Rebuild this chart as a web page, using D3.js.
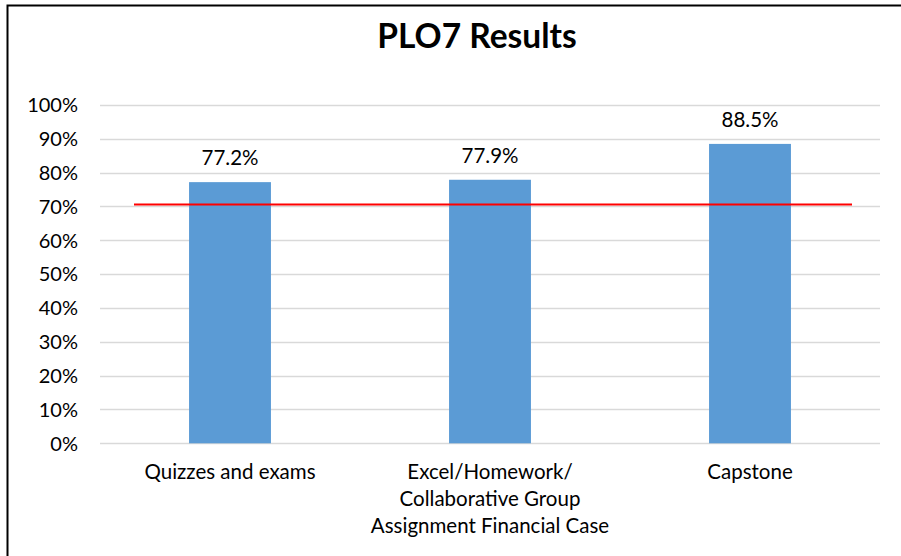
<!DOCTYPE html>
<html>
<head>
<meta charset="utf-8">
<script src="https://cdn.jsdelivr.net/npm/d3@7"></script>
<style>
  body { margin: 0; background: #fff; }
  svg { display: block; font-family: Lato, "Open Sans", sans-serif; }
  .tick-label { font-size: 20px; fill: #000; }
  .cat-label { font-size: 20.5px; fill: #000; }
  .value-label { font-size: 20.5px; fill: #000; }
  .title { font-size: 33.5px; font-weight: bold; fill: #000; }
</style>
</head>
<body>
<div id="chart"></div>
<script>
// chart data
const categories = [
    ["Quizzes and exams"],
    ["Excel/Homework/", "Collaborative Group", "Assignment Financial Case"],
    ["Capstone"]
];
const results = [0.772, 0.779, 0.885];
const valueLabels = ["77.2%", "77.9%", "88.5%"];
const yTicks = [0, 0.1, 0.2, 0.3, 0.4, 0.5, 0.6, 0.7, 0.8, 0.9, 1.0];
const target = [0.706];

const W = 901, H = 556;
const margin = {left: 100, right: 21, top: 105, bottom: 112.7};
const width = W - margin.left - margin.right;
const height = H - margin.top - margin.bottom;

// colours
const BAR_COLOR = "#5B9BD5";
const GRID_COLOR = "#D9D9D9";
const TARGET_COLOR = "#FF0000";

let svg = d3.select("#chart")
    .append("svg")
    .attr("width", W)
    .attr("height", H);

// outer frame (only top and left visible in the crop)
svg.append("path")
    .attr("d", "M7.5," + H + " L7.5,5.5 L" + W + ",5.5")
    .attr("fill", "none")
    .attr("stroke", "#000")
    .attr("stroke-width", 2);

svg.append("text")
    .attr("class", "title")
    .attr("x", 477)
    .attr("y", 48)
    .attr("text-anchor", "middle")
    .text("PLO7 Results");

let chart = svg.append("g")
    .attr("transform", "translate(" + margin.left + ", " + margin.top + ")");

let x = d3.scaleBand()
    .domain(d3.range(categories.length))
    .range([0, width])
    .padding(0);

let y = d3.scaleLinear()
    .domain([0, 1])
    .range([height, 0]);

// gridlines
chart.append("g")
    .selectAll("line")
    .data(yTicks)
    .enter()
    .append("line")
    .attr("x1", 0)
    .attr("x2", width)
    .attr("y1", function(d) { return Math.round(y(d)) + 0.5; })
    .attr("y2", function(d) { return Math.round(y(d)) + 0.5; })
    .attr("stroke", GRID_COLOR)
    .attr("stroke-width", 1.5);

// y tick labels
chart.append("g")
    .selectAll("text")
    .data(yTicks)
    .enter()
    .append("text")
    .attr("class", "tick-label")
    .attr("x", -22)
    .attr("y", function(d) { return y(d); })
    .attr("dy", "0.36em")
    .attr("text-anchor", "end")
    .text(d3.format(".0%"));

const barWidth = x.bandwidth() * 0.315;

chart.append("g")
    .selectAll("rect")
    .data(results)
    .enter()
    .append("rect")
    .attr("x", function(d, i) { return x(i) + (x.bandwidth() - barWidth) / 2; })
    .attr("y", function(d) { return y(d); })
    .attr("width", barWidth)
    .attr("height", function(d) { return height - y(d); })
    .attr("fill", BAR_COLOR);

chart.append("g")
    .selectAll("text")
    .data(results)
    .enter()
    .append("text")
    .attr("class", "value-label")
    .attr("x", function(d, i) { return x(i) + x.bandwidth() / 2; })
    .attr("y", function(d) { return y(d) - 17; })
    .attr("text-anchor", "middle")
    .text(function(d, i) { return valueLabels[i]; });

// category labels, one tspan per line
let cats = chart.append("g")
    .selectAll("text")
    .data(categories)
    .enter()
    .append("text")
    .attr("class", "cat-label")
    .attr("text-anchor", "middle")
    .attr("transform", function(d, i) {
        return "translate(" + (x(i) + x.bandwidth() / 2) + ", " + (height + 36) + ")";
    });

cats.selectAll("tspan")
    .data(function(d) { return d; })
    .enter()
    .append("tspan")
    .attr("x", 0)
    .attr("y", function(d, i) { return i * 27; })
    .text(function(d) { return d; });

// target line
chart.append("line")
    .attr("x1", 34)
    .attr("x2", 752)
    .attr("y1", y(target[0]))
    .attr("y2", y(target[0]))
    .attr("stroke", TARGET_COLOR)
    .attr("stroke-width", 2);
</script>
</body>
</html>
